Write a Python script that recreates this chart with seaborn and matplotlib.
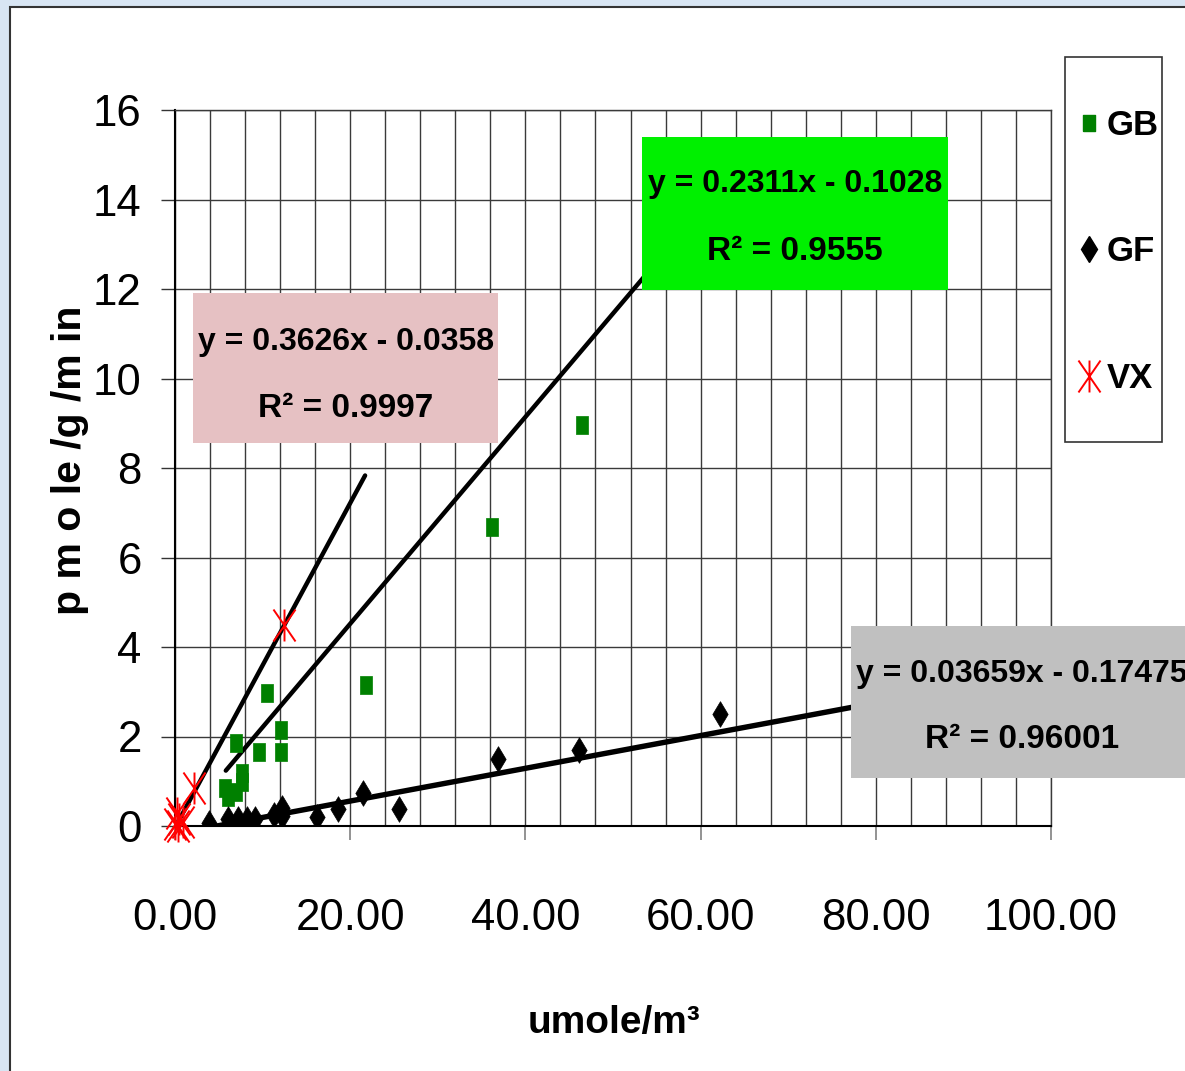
import numpy as np
import matplotlib
matplotlib.use("Agg")
import matplotlib.pyplot as plt
import seaborn as sns
from matplotlib.patches import Rectangle
from matplotlib.path import Path
from matplotlib.lines import Line2D

# ---- measurements -------------------------------------------------------
gb_conc = [5.7, 6.0, 7.0, 7.6, 7.6, 7.0, 9.6, 10.5, 12.1, 12.1, 21.8, 36.2, 46.5]
gb_rate = [0.85, 0.65, 0.75, 0.98, 1.18, 1.85, 1.65, 2.97, 2.15, 1.65, 3.15, 6.68, 8.96]

gf_conc = [3.9, 6.1, 7.2, 8.2, 9.1, 11.3, 12.2, 12.2, 16.2, 18.6, 21.5, 25.6, 36.9, 46.1, 62.2]
gf_rate = [0.07, 0.16, 0.16, 0.16, 0.16, 0.25, 0.40, 0.22, 0.20, 0.38, 0.74, 0.38, 1.50, 1.70, 2.50]

vx_conc = [0.0, 0.2, 0.3, 0.5, 0.9, 2.2, 12.4]
vx_rate = [0.05, 0.30, 0.00, 0.15, 0.10, 0.85, 4.50]

# linear fits (slope, intercept), R^2, and the x-range of each trend line
gb_fit = [0.2311, -0.1028]
gf_fit = [0.03659, -0.17475]
vx_fit = [0.3626, -0.0358]
gb_r2, gf_r2, vx_r2 = "0.9555", "0.96001", "0.9997"
gb_span = [5.8, 58.0]
gf_span = [4.8, 85.0]
vx_span = [0.0, 21.7]

x_ticks = [0, 20, 40, 60, 80, 100]
x_tick_labels = ["0.00", "20.00", "40.00", "60.00", "80.00", "100.00"]
y_ticks = [0, 2, 4, 6, 8, 10, 12, 14, 16]
series_names = ["GB", "GF", "VX"]

# ---- style --------------------------------------------------------------
sns.set_theme(style="white")
plt.rcParams["font.family"] = ["Liberation Sans", "DejaVu Sans"]
for key in ["text.color", "axes.labelcolor", "xtick.color", "ytick.color"]:
    plt.rcParams[key] = "black"

W, H = 1185, 1071


def fx(px):
    return px / W


def fy(py):
    return 1 - py / H


GREEN = "#008000"
RED = "#ff0000"

# marker shapes: upright block, diamond, six-armed star
block = [(-0.35, -0.5), (0.35, -0.5), (0.35, 0.5), (-0.35, 0.5), (-0.35, -0.5)]
star = Path(
    [(0, -1), (0, 1), (-0.69, -1), (0.69, 1), (-0.69, 1), (0.69, -1)],
    [Path.MOVETO, Path.LINETO] * 3,
)

fig = plt.figure(figsize=(W / 100, H / 100), dpi=100, facecolor="#d8e5f3")
# white chart panel
fig.add_artist(Rectangle((fx(10), fy(1100)), fx(1200) - fx(10), fy(7) - fy(1100),
                         transform=fig.transFigure, facecolor="white",
                         edgecolor="#333333", lw=1.5, zorder=-5))

ax = fig.add_axes([fx(175), fy(826), (1051 - 175) / W, (826 - 110) / H])
ax.set_facecolor("white")

# trend lines
for fit, span, lw in [(vx_fit, vx_span, 3.2), (gb_fit, gb_span, 3.2), (gf_fit, gf_span, 3.9)]:
    xs = np.array(span)
    sns.lineplot(x=xs, y=np.polyval(fit, xs), color="black", lw=lw, ax=ax, zorder=3)

# measured points
sns.scatterplot(x=gb_conc, y=gb_rate, marker=block, s=150, color=GREEN,
                edgecolor=GREEN, linewidth=0.5, ax=ax, zorder=4)
sns.scatterplot(x=gf_conc, y=gf_rate, marker="d", s=170, color="black",
                edgecolor="black", linewidth=0.5, ax=ax, zorder=4)
sns.scatterplot(x=vx_conc, y=vx_rate, marker=star, s=530, color=RED,
                edgecolor=RED, linewidth=1.4, ax=ax, zorder=4, clip_on=False)

# axes, ticks and grid
ax.set_xlim(0, 100)
ax.set_ylim(0, 16)
ax.set_xticks(x_ticks)
ax.set_xticklabels(x_tick_labels)
ax.set_xticks(np.arange(0, 101, 4), minor=True)
ax.set_yticks(y_ticks)
ax.set_yticklabels([str(v) for v in y_ticks])
ax.grid(which="both", axis="x", color="#3a3a3a", lw=1.0)
ax.grid(which="major", axis="y", color="#3a3a3a", lw=1.0)
ax.set_axisbelow(True)
ax.tick_params(axis="x", which="minor", length=0)
ax.tick_params(axis="x", which="major", length=10, width=1.2, color="#808080",
               labelcolor="black", pad=42, labelsize=31.5, bottom=True)
ax.tick_params(axis="y", which="major", length=10, width=1.0, color="#333333",
               labelcolor="black", pad=14, labelsize=31.5, left=True)
for side in ["left", "bottom"]:
    ax.spines[side].set_color("black")
    ax.spines[side].set_linewidth(1.5)
for side in ["top", "right"]:
    ax.spines[side].set_color("#3a3a3a")
    ax.spines[side].set_linewidth(1.0)

ax.set_xlabel("umole/m³", fontsize=28, fontweight="bold")
ax.set_ylabel("p m o le /g /m in", fontsize=29.5, fontweight="bold")
ax.xaxis.set_label_coords(0.501, -0.275)
ax.xaxis.label.set_va("center")
ax.yaxis.set_label_coords(-0.12, 0.511)
ax.yaxis.label.set_va("center")


# equation boxes
def fit_box(x0, y0, x1, y1, color, fit, r2, cx, base1, base2):
    fig.add_artist(Rectangle((fx(x0), fy(y1)), fx(x1) - fx(x0), fy(y0) - fy(y1),
                             transform=fig.transFigure, facecolor=color,
                             edgecolor="none", zorder=5))
    eq = f"y = {fit[0]}x - {abs(fit[1])}"
    fig.text(fx(cx), fy(base1), eq, ha="center", va="baseline",
             fontsize=23, fontweight="bold", zorder=6)
    fig.text(fx(cx), fy(base2), f"R² = {r2}", ha="center", va="baseline",
             fontsize=24, fontweight="bold", zorder=6)


fit_box(193, 293, 498, 443, "#e6c1c3", vx_fit, vx_r2, 346, 350, 417)
fit_box(642, 137, 948, 290, "#00f000", gb_fit, gb_r2, 795, 192, 260)
fit_box(851, 626, 1200, 778, "#c0c0c0", gf_fit, gf_r2, 1022, 682, 748)

# legend
fig.add_artist(Rectangle((fx(1065), fy(442)), fx(1162) - fx(1065), fy(57) - fy(442),
                         transform=fig.transFigure, facecolor="none",
                         edgecolor="#333333", lw=1.2, zorder=5))
handles = [
    Line2D([], [], ls="none", marker=block, markersize=12.2, color=GREEN),
    Line2D([], [], ls="none", marker="d", markersize=13, color="black"),
    Line2D([], [], ls="none", marker=star, markersize=23, color=RED,
           markeredgewidth=1.4),
]
leg = ax.legend(handles, series_names, loc="upper left",
                bbox_to_anchor=(fx(1083), fy(109)), bbox_transform=fig.transFigure,
                frameon=False, borderpad=0, borderaxespad=0, handlelength=0.34,
                handletextpad=0.35, labelspacing=2.69,
                prop={"size": 25, "weight": "bold"})

fig.savefig("out.png", dpi=100, facecolor=fig.get_facecolor())
